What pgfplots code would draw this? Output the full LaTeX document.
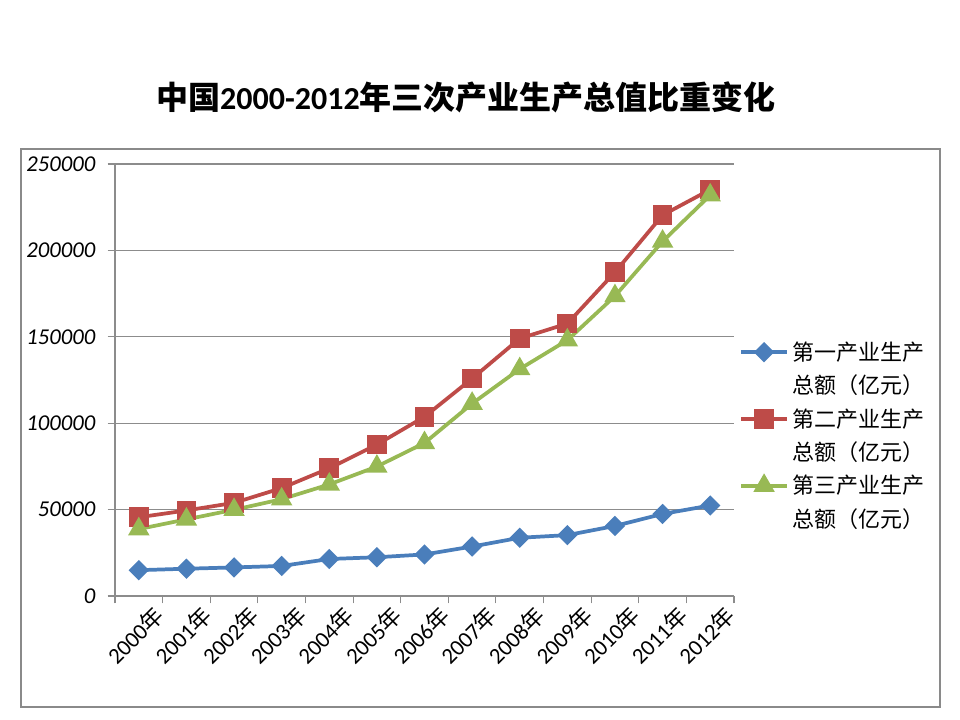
\documentclass[border=0pt]{standalone}
\usepackage{fontspec}
\setmainfont{Carlito}
\newfontfamily\cjk{Noto Sans CJK SC}
\usepackage{pgfplots}
\pgfplotsset{compat=1.18}
\definecolor{xlblue}{HTML}{4A7EBB}
\definecolor{xlred}{HTML}{BE4B48}
\definecolor{xlgreen}{HTML}{98B954}
\definecolor{framegray}{HTML}{8A8A8A}
\definecolor{gridgray}{HTML}{8C8C8C}
\pgfplotstableread{
yr  one    two    three
0   14945  45556  38714
1   15781  49512  44362
2   16537  53897  49899
3   17382  62436  56005
4   21413  73904  64561
5   22420  87598  74919
6   24040  103720 88555
7   28627  125831 111352
8   33702  149003 131340
9   35226  157639 148038
10  40534  187383 173596
11  47486  220413 205205
12  52374  235162 231935
}\gdp
\begin{document}
\begin{tikzpicture}
\path[use as bounding box] (0,0) rectangle (720pt,540pt);
\draw[framegray, line width=1.5pt] (15.75pt,9.75pt) rectangle (705pt,428.25pt);
\node[font=\fontsize{24}{28}\selectfont\bfseries] at (349.5pt,467.25pt)
  {{\cjk 中国}2000-2012{\cjk 年三次产业生产总值比重变化}};
\begin{axis}[at={(86.25pt,93pt)}, anchor=south west, scale only axis,
  width=464.25pt, height=324pt,
  xmin=-0.5, xmax=12.5, ymin=0, ymax=250000,
  axis x line*=bottom, axis y line*=left,
  axis line style={gridgray, line width=0.8pt},
  ytick={0,50000,...,250000},
  yticklabel={\pgfmathprintnumber[fixed, precision=0, assume math mode=true, 1000 sep={}]{\tick}},
  ymajorgrids, major grid style={gridgray, line width=0.8pt},
  tick style={gridgray, line width=0.8pt}, tick align=outside, major tick length=5.5pt,
  xtick={-0.5,0.5,...,12.5}, xticklabels={,,,,,,,,,,,,,},
  extra x ticks={0,...,12},
  extra x tick style={major tick length=0pt, grid=none},
  extra x tick labels={2000{\cjk 年},2001{\cjk 年},2002{\cjk 年},2003{\cjk 年},2004{\cjk 年},2005{\cjk 年},2006{\cjk 年},2007{\cjk 年},2008{\cjk 年},2009{\cjk 年},2010{\cjk 年},2011{\cjk 年},2012{\cjk 年}},
  x tick label style={rotate=45, anchor=north east, font=\fontsize{17}{19}\selectfont, inner sep=1pt, xshift=4pt, yshift=-10pt},
  y tick label style={font=\fontsize{17}{20}\selectfont\itshape, inner sep=2pt, xshift=-7pt},
  scaled y ticks=false,
  legend cell align=left,
  legend style={at={(1.008,0.595)}, anchor=north west, draw=none, fill=none, inner sep=0pt,
    font=\fontsize{16.5}{18}\selectfont\cjk, row sep=5.5pt, column sep=1pt},
  legend image code/.code={\path (0pt,0pt) -- (34.5pt,0pt);
    \draw[#1, overlay, mark repeat=2, mark phase=2] plot coordinates {(0pt,0pt)(17.25pt,0pt)(34.5pt,0pt)};},
]
\addplot[xlblue, line width=2.8pt, mark=square*, mark size=4pt, mark options={rotate=45, solid}] table[x=yr, y=one] {\gdp};
\addlegendentry{第一产业生产}
\addlegendimage{empty legend}
\addlegendentry{总额（亿元）}
\addplot[xlred, line width=2.8pt, mark=square*, mark size=6pt, mark options={solid}] table[x=yr, y=two] {\gdp};
\addlegendentry{第二产业生产}
\addlegendimage{empty legend}
\addlegendentry{总额（亿元）}
\addplot[xlgreen, line width=2.8pt, mark=triangle*, mark size=6.5pt, mark options={solid}] table[x=yr, y=three] {\gdp};
\addlegendentry{第三产业生产}
\addlegendimage{empty legend}
\addlegendentry{总额（亿元）}
\end{axis}
\end{tikzpicture}
\end{document}
